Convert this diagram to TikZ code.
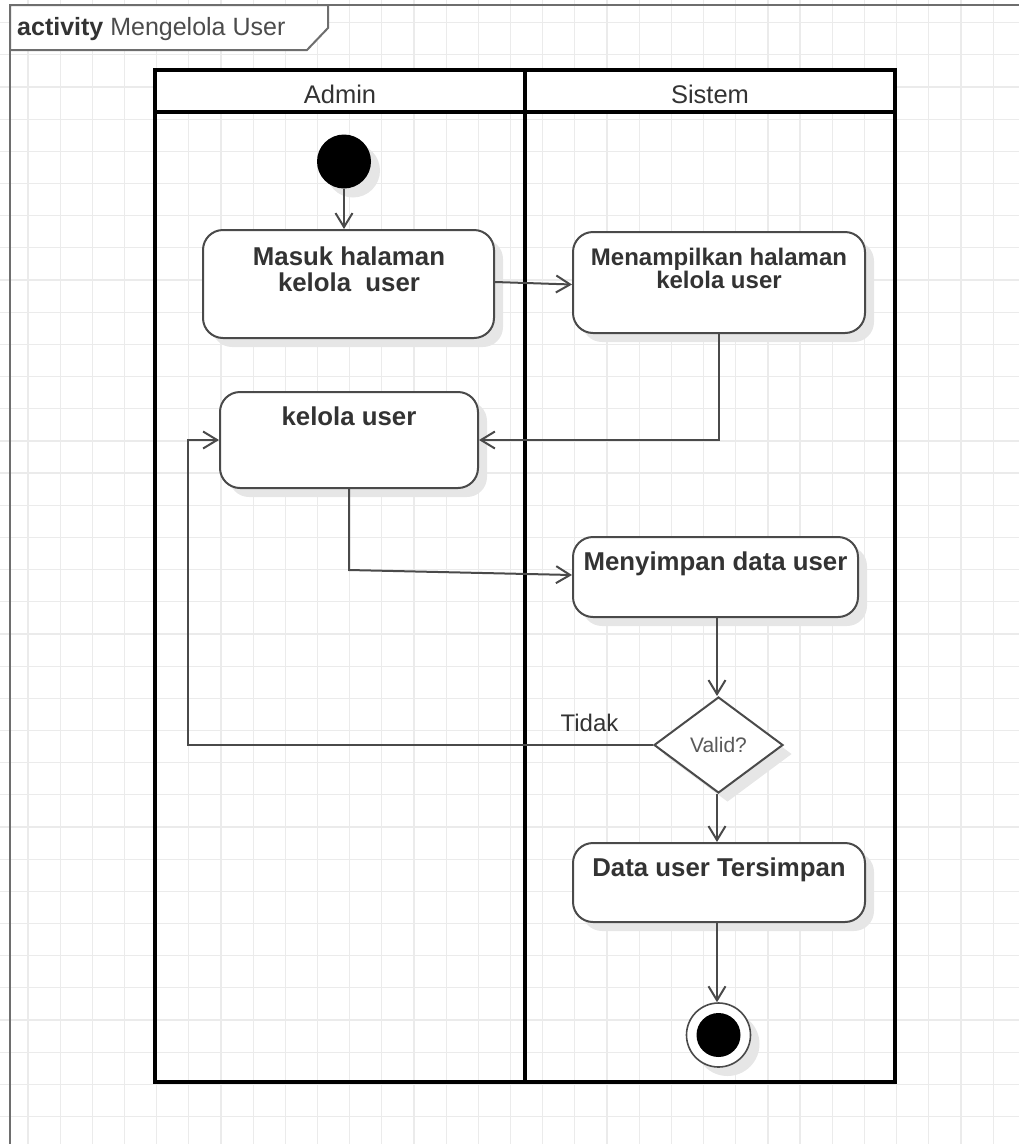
\documentclass[tikz,border=0pt]{standalone}
\usepackage{fontspec}
\setmainfont{Liberation Sans}
\usetikzlibrary{arrows.meta,shapes.geometric,shadows}

\definecolor{gridc}{HTML}{EBEBEB}
\definecolor{linec}{HTML}{4A4A4A}
\definecolor{framec}{HTML}{6E6E6E}
\definecolor{shadowc}{HTML}{E6E6E6}
\definecolor{textc}{HTML}{333333}

\tikzset{
  gridline/.style={draw=gridc, line width=1.2pt},
  softshadow/.style={drop shadow={shadow xshift=9pt, shadow yshift=-9pt, fill=shadowc, opacity=1}},
  act/.style={draw=linec, line width=2pt, rounded corners=20pt, fill=white,
              inner sep=0pt, softshadow},
  acttext/.style={font=\fontsize{25.8}{26}\selectfont\bfseries, text=textc,
                  align=center, anchor=base, inner sep=0pt},
  lanetext/.style={font=\fontsize{25.5}{26}\selectfont, text=textc, anchor=base, inner sep=0pt},
  flow/.style={draw=linec, line width=2pt,
               -{Straight Barb[length=14pt,width=17pt,line width=2pt]}},
  lane/.style={draw=black, line width=3.2pt},
}

\begin{document}
\begin{tikzpicture}[x=1pt,y=-1pt]
  \useasboundingbox (0,0) rectangle (1019,1144);
  \clip (0,0) rectangle (1019,1144);

  % background grid
  \foreach \k in {-1,...,31}
    \draw[gridline] ({28+32.17*\k},-10) -- ({28+32.17*\k},1160);
  \foreach \k in {-1,...,35}
    \draw[gridline] (-10,{22.7+32.17*\k}) -- (1030,{22.7+32.17*\k});

  % activity frame and its name tab
  \draw[draw=framec, line width=2pt] (10,1160) -- (10,5) -- (1030,5);
  \draw[draw=framec, line width=2pt, fill=white]
    (10,5) -- (10,50) -- (307,50) -- (328,28) -- (328,5) -- cycle;
  \node[anchor=base west, inner sep=0pt, font=\fontsize{25}{25}\selectfont, text=textc]
    (title) at (17,35) {\textbf{activity} {\color{black!70}Mengelola User}};

  % swimlanes
  \fill[white] (155,70) rectangle (895,112);
  \draw[lane] (155,70) rectangle (895,1082);
  \draw[lane] (155,112) -- (895,112);
  \draw[lane] (525,70) -- (525,1082);
  \node[lanetext] (admin) at (340,103) {Admin};
  \node[lanetext] (sistem) at (710,103) {Sistem};

  % initial node
  \node[circle, fill=black, minimum size=54pt, inner sep=0pt, softshadow] (start) at (344,161.5) {};

  % actions (the base anchor of a two-line label sits on its last line)
  \node[act, minimum width=291pt, minimum height=108pt] (b1) at (348.5,284) {};
  \node[acttext] (t1) at (349,291) {Masuk halaman\\kelola\ \ user};

  \node[act, minimum width=292pt, minimum height=101pt] (b2) at (719,282.5) {};
  \node[acttext, font=\fontsize{24}{23}\selectfont\bfseries] (t2) at (719,288) {Menampilkan halaman\\kelola user};

  \node[act, minimum width=258pt, minimum height=96pt] (b3) at (349,440) {};
  \node[acttext] (t3) at (349,425) {kelola user};

  \node[act, minimum width=285pt, minimum height=80pt] (b4) at (715.5,577) {};
  \node[acttext] (t4) at (715.5,570) {Menyimpan data user};

  \node[diamond, draw=linec, line width=2pt, fill=white, inner sep=0pt,
        minimum width=129pt, minimum height=96pt, softshadow,
        font=\fontsize{21}{21}\selectfont, text=black!65] (valid) at (718.5,745) {Valid?};

  \node[act, minimum width=292pt, minimum height=79pt] (b5) at (719,882.5) {};
  \node[acttext] (t5) at (719,876) {Data user Tersimpan};

  % final node
  \node[circle, draw=linec, line width=1.6pt, fill=white, minimum size=64pt, inner sep=0pt,
        softshadow,
        path picture={\fill[black] (path picture bounding box.center) circle (22pt);}]
        (final) at (718.5,1035) {};

  % control flows
  \coordinate (k1) at (349,570);
  \coordinate (k2) at (188,745);

  \draw[flow] (start.south) -- (start.south |- b1.north);
  \draw[flow] ([yshift=2pt]b1.east) -- ([yshift=-2pt]b2.west);
  \draw[flow] (b2.south) |- (b3.east);
  \draw[flow] (b3.south) -- (k1) -- ([yshift=2pt]b4.west);
  \draw[flow] ([xshift=-1.5pt]valid.north |- b4.south) -- ([xshift=-1.5pt]valid.north);
  \draw[flow] ([xshift=-1.5pt]valid.south) -- ([xshift=-1.5pt]valid.south |- b5.north);
  \draw[flow] (valid.west) -- (k2) |- (b3.west);
  \draw[flow] ([xshift=-1.5pt]final.north |- b5.south) -- ([xshift=-1.5pt]final.north);

  \node[anchor=base, inner sep=0pt, font=\fontsize{24}{24}\selectfont, text=textc]
    (tidak) at (589.5,731) {Tidak};
\end{tikzpicture}
\end{document}
